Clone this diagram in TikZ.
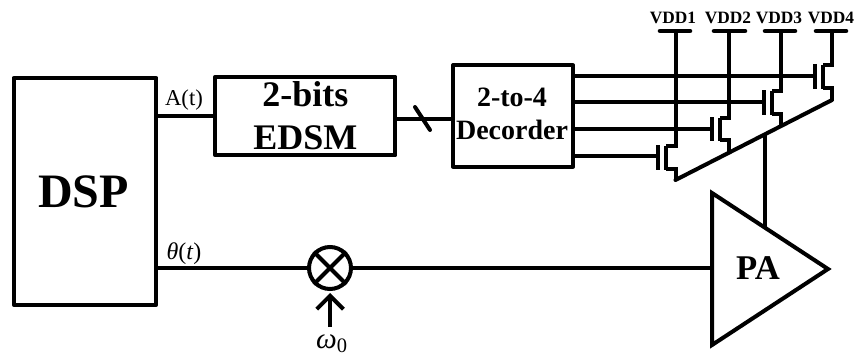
\documentclass[tikz,border=0pt]{standalone}
\usepackage{fontspec}
\setmainfont{Liberation Serif}
\usetikzlibrary{arrows.meta}

\tikzset{every picture/.style={line width=3pt}}
\tikzset{
  blockbox/.style={draw,rectangle,line join=round,inner sep=0pt,align=center,font=\bfseries},
  wire/.style={line width=3pt},
  gatebar/.style={line width=3.4pt},
  railbar/.style={line width=3.4pt,line cap=round},
  textlabel/.style={anchor=center,inner sep=0.75pt,align=center},
  vddlabel/.style={textlabel,font=\bfseries\fontsize{13}{14}\selectfont},
}

\begin{document}
\begin{tikzpicture}[x=0.75pt,y=0.75pt,yscale=-1,xscale=1]
\useasboundingbox (0,0) rectangle (855,360);

% Blocks
\node [blockbox,minimum width=107pt,minimum height=170pt] (DSP) at (85,191.3) {};
\node [textlabel,font=\bfseries\fontsize{36}{38}\selectfont] (DSPtxt) at (83.5,192) {DSP};
\node [blockbox,minimum width=135pt,minimum height=59pt,font=\bfseries\fontsize{27}{32}\selectfont] (EDSM) at (305.3,116) {2-bits\\EDSM};
\node [blockbox,minimum width=90pt,minimum height=76pt] (DEC) at (513,116) {};
\node [textlabel,font=\bfseries\fontsize{21}{25}\selectfont] (DECtxt) at (512,114) {2-to-4\\Decorder};
\node [draw,circle,minimum size=31.5pt,inner sep=0pt] (MIX) at (330,268) {};

% PA
\coordinate (PAtop) at (712,193);
\coordinate (PAbot) at (712,345);
\coordinate (PAtip) at (828,269);
\draw [line join=miter] (PAtop) -- (PAtip) -- (PAbot) -- cycle;
\node [textlabel,font=\bfseries\fontsize{26}{28}\selectfont] (PA) at (758,268) {PA};

% Cross of the mixer
\draw (MIX.north west) -- (MIX.south east);
\draw (MIX.north east) -- (MIX.south west);

% Signal wires
\draw [wire] (DSP.east |- EDSM.west) -- (EDSM.west);
\coordinate (BUS) at (396,119);
\draw [wire] (BUS) -- (BUS -| DEC.west);
\coordinate (SLa) at (415,107);
\coordinate (SLb) at (430,130);
\draw [wire,line cap=round] (SLa) -- (SLb);
\draw [wire] (DSP.east |- MIX.west) -- (MIX.west);
\draw [wire] (MIX.east) -- (MIX.east -| PAtop);
\coordinate (WREF) at (330,327);
\draw [wire,shorten >=1.5pt,-{Straight Barb[length=10pt,width=20pt,line width=3pt]}] (WREF) -- (MIX.south);

% Transistor M1
\coordinate (Ga) at (658,156);
\node [vddlabel] (VDDa) at (673,18) {VDD1};
\coordinate (Ra) at (675.5,31);
\draw [railbar] (660,31) -- (690,31);
\draw [wire] (DEC.east |- Ga) -- (Ga);
\draw [gatebar] (658,145) -- (658,170);
\draw [gatebar] (666,146) -- (666,170);
\draw [wire,line join=miter] (Ra) -- (675.5,146) -- (666,146);
\draw [wire,line join=miter] (666,169) -- (675.5,169) -- (675.5,180);

% Transistor M2
\coordinate (Gb) at (712,129);
\node [vddlabel] (VDDb) at (728,18) {VDD2};
\coordinate (Rb) at (729,31);
\draw [railbar] (714,31) -- (745,31);
\draw [wire] (DEC.east |- Gb) -- (Gb);
\draw [gatebar] (712,117) -- (712,141);
\draw [gatebar] (720,118) -- (720,141);
\draw [wire,line join=miter] (Rb) -- (729,118) -- (720,118);
\draw [wire,line join=miter] (720,140) -- (729,140) -- (729,153);

% Transistor M3
\coordinate (Gc) at (764,102);
\node [vddlabel] (VDDc) at (779,18) {VDD3};
\coordinate (Rc) at (780.5,31);
\draw [railbar] (765,31) -- (795,31);
\draw [wire] (DEC.east |- Gc) -- (Gc);
\draw [gatebar] (764,90) -- (764,115);
\draw [gatebar] (772,91) -- (772,115);
\draw [wire,line join=miter] (Rc) -- (780.5,91) -- (772,91);
\draw [wire,line join=miter] (772,114) -- (780.5,114) -- (780.5,127);

% Transistor M4
\coordinate (Gd) at (815,76);
\node [vddlabel] (VDDd) at (831,18) {VDD4};
\coordinate (Rd) at (832,31);
\draw [railbar] (816,31) -- (846,31);
\draw [wire] (DEC.east |- Gd) -- (Gd);
\draw [gatebar] (815,64) -- (815,89);
\draw [gatebar] (823,65) -- (823,89);
\draw [wire,line join=miter] (Rd) -- (832,65) -- (823,65);
\draw [wire,line join=miter] (823,88) -- (832,88) -- (832,100);

% Common source line
\draw [wire,line cap=round] (832,100) -- (675.5,180);
\coordinate (TAP) at (765,135);
\draw [wire] (TAP) -- (765,228);

% Text Node
\node [textlabel,font=\fontsize{17}{19}\selectfont] (LABa) at (184,100) {A(t)};
% Text Node
\node [textlabel,font=\fontsize{18}{20}\selectfont] (LABb) at (184,254) {\textit{θ}(\textit{t})};
% Text Node
\node [textlabel,font=\fontsize{22}{24}\selectfont] (LABc) at (332,344) {\textit{ω}\textsubscript{0}};
\end{tikzpicture}
\end{document}
